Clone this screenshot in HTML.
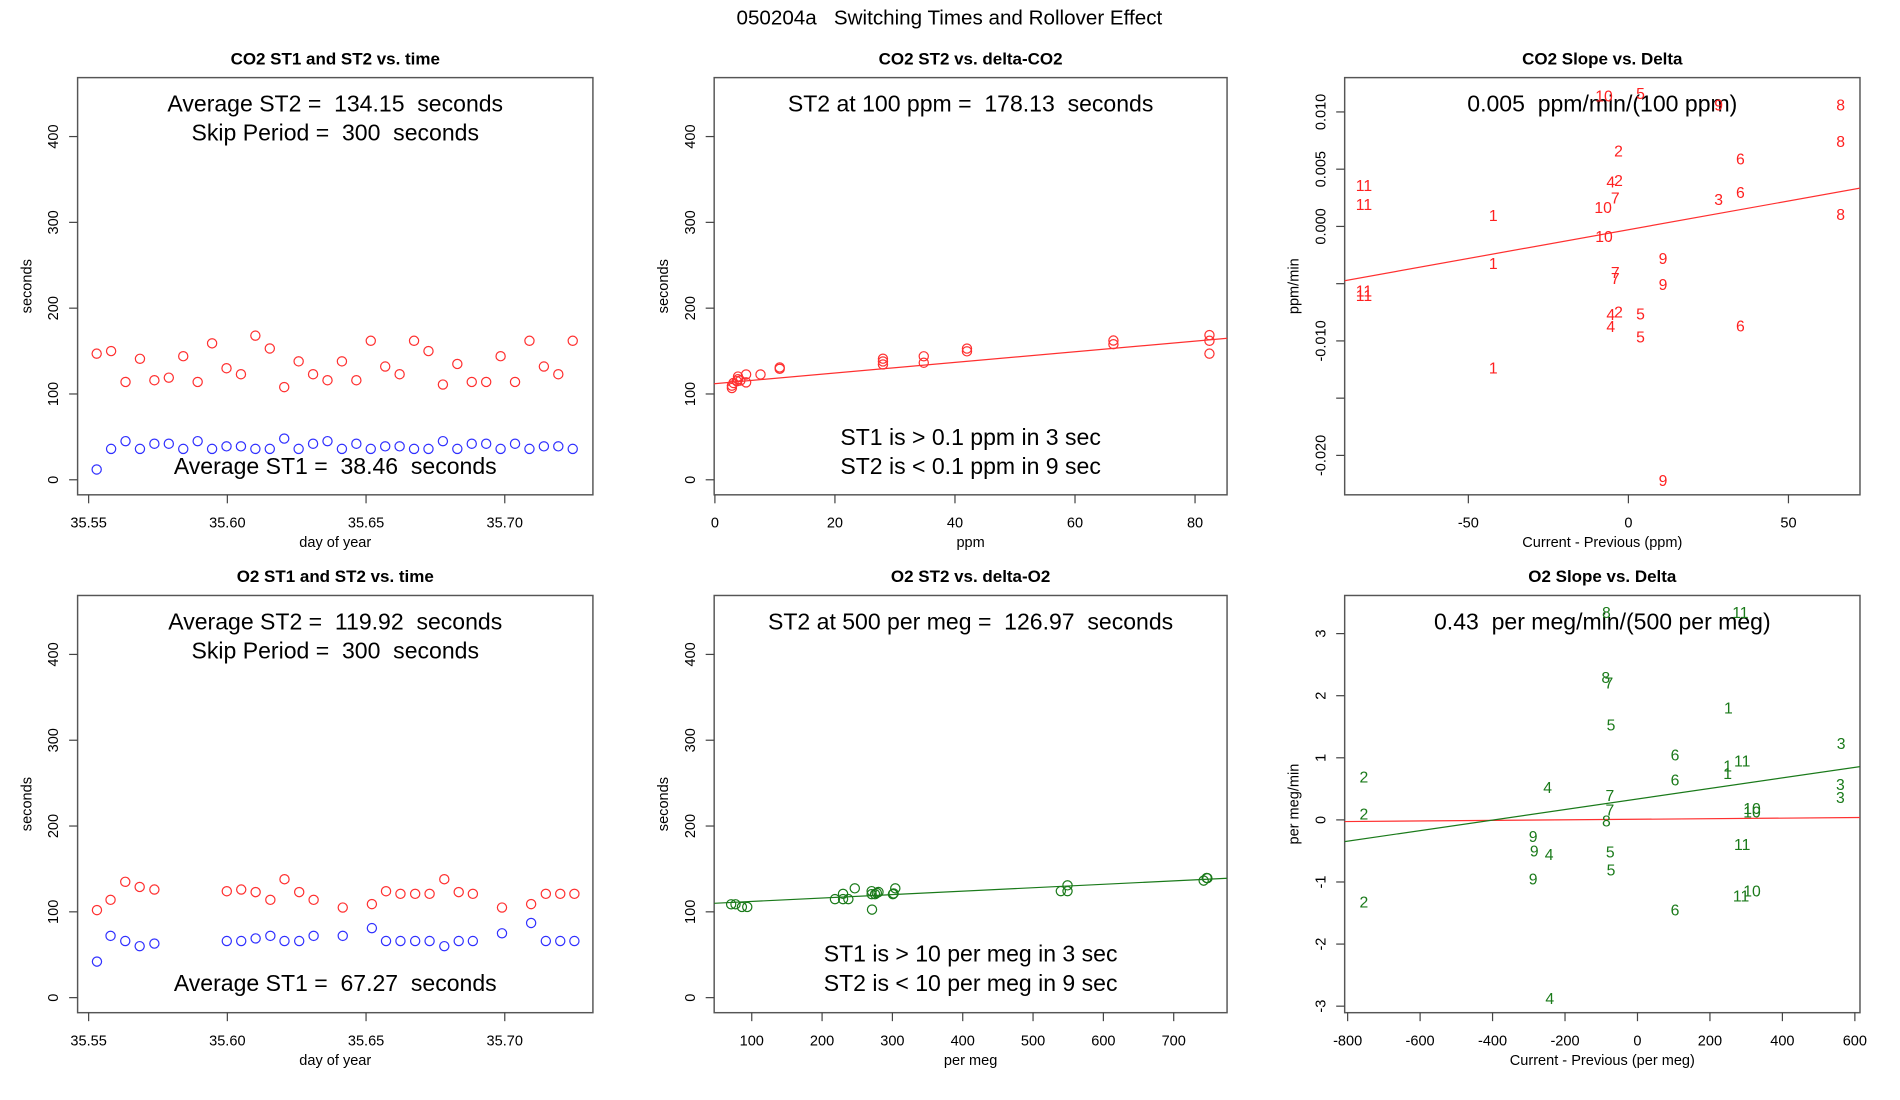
<!DOCTYPE html>
<html><head><meta charset="utf-8"><style>
html,body{margin:0;padding:0;background:#fff;}
svg{display:block;font-family:"Liberation Sans",sans-serif;}
svg text{white-space:pre;}
</style></head><body>
<svg id="fig" width="1900" height="1100" viewBox="0 0 1567 907" preserveAspectRatio="none" xmlns="http://www.w3.org/2000/svg">
<text x="783" y="20" font-size="17" text-anchor="middle">050204a   Switching Times and Rollover Effect</text>
</svg>
<script>
// ---- Panel 1: CO2 ST1 and ST2 vs time ----
const co2Time=[35.5529,35.5581,35.5633,35.5685,35.5737,35.5789,35.5841,35.5893,35.5945,35.5997,35.6049,35.6101,35.6153,35.6205,35.6257,35.6309,35.6361,35.6413,35.6465,35.6517,35.6569,35.6621,35.6673,35.6725,35.6777,35.6829,35.6881,35.6933,35.6985,35.7037,35.7089,35.7141,35.7193,35.7245];
const co2ST2=[147,150,114,141,116,119,144,114,159,130,123,168,153,108,138,123,116,138,116,162,132,123,162,150,111,135,114,114,144,114,162,132,123,162];
const co2ST1=[12,36,45,36,42,42,36,45,36,39,39,36,36,48,36,42,45,36,42,36,39,39,36,36,45,36,42,42,36,42,36,39,39,36];
// ---- Panel 4: O2 ST1 and ST2 vs time ----
const o2Time=[35.5530,35.5579,35.5632,35.5684,35.5737,35.5998,35.6050,35.6102,35.6155,35.6206,35.6259,35.6311,35.6416,35.6521,35.6572,35.6624,35.6677,35.6729,35.6782,35.6834,35.6885,35.6990,35.7095,35.7148,35.7200,35.7251];
const o2ST2=[102,114,135,129,126,124,126,123,114,138,123,114,105,109,124,121,121,121,138,123,121,105,109,121,121,121];
const o2ST1=[42,72,66,60,63,66,66,69,72,66,66,72,72,81,66,66,66,66,60,66,66,75,87,66,66,66];
// ---- Panel 2: CO2 ST2 vs delta ----
const co2Delta=[2.83,2.83,3.1,3.67,3.85,3.85,4.24,5.2,5.2,7.6,10.8,10.8,28.0,28.0,28.0,34.8,34.8,42.0,42.0,66.4,66.4,82.4,82.4,82.4];
const co2DeltaST2=[106.9,109.7,112.8,114.8,117.2,120.3,115.6,122.7,113.5,122.7,130.9,129.3,141.1,137.9,134.4,143.9,136.4,152.9,149.7,162.3,158,168.6,162,147];
const co2Fit=[0.62,112];
// ---- Panel 5: O2 ST2 vs delta ----
const o2Delta=[70.7,76.9,86.0,93.6,218.3,229.8,229.8,237.4,246.5,270.5,270.5,271.0,275.3,277.8,280.2,300.7,301.7,304.1,539.5,549.0,549.0,742.6,746.9,747.9];
const o2DeltaST2=[108.8,108.8,105.7,105.7,114.8,121.0,114.8,114.8,127.4,124.1,120.6,102.6,120.6,122.0,123.1,120.6,121.4,127.4,124.1,130.9,124.1,136.4,139.5,139.2];
const o2Fit=[0.04,108.1];
// ---- Panel 3: CO2 slope vs delta ----
const co2SlopeLabels=["10","5","9","8","8","2","6","11","4","2","6","7","3","11","10","1","8","10","1","9","7","7","9","11","11","4","2","5","4","6","5","1","9"];
const co2SlopeX=[-7.6,3.8,28.2,66.3,66.3,-3.1,35.0,-82.6,-5.5,-3.1,35.0,-4.1,28.2,-82.6,-7.9,-42.2,66.3,-7.6,-42.2,10.8,-4.1,-4.1,10.8,-82.6,-82.6,-5.5,-3.1,3.8,-5.5,35.0,3.8,-42.2,10.8];
const co2SlopeY=[0.01142,0.01166,0.01064,0.01064,0.00746,0.00662,0.00595,0.00362,0.00394,0.00408,0.00303,0.00254,0.00239,0.00198,0.00169,0.00099,0.00111,-0.00082,-0.00321,-0.00277,-0.00399,-0.00452,-0.00501,-0.00560,-0.00598,-0.00764,-0.00743,-0.00758,-0.00869,-0.00866,-0.00962,-0.01233,-0.02216];
const co2SlopeFit=[5.02e-5,-0.000288];
// ---- Panel 6: O2 slope vs delta ----
const o2SlopeLabels=["8","11","8","7","1","5","3","6","11","1","1","2","6","4","3","3","7","10","10","7","2","8","9","9","4","11","5","5","9","10","11","2","6","4"];
const o2SlopeX=[-85.7,284,-87.7,-78.8,251,-72.9,562,103.5,289,249,249,-755,103.5,-248,560,560,-76,316,316,-76,-755,-85.7,-288,-285,-244,289,-75,-73,-288,316,286,-755,103.5,-242];
const o2SlopeY=[3.35,3.35,2.30,2.21,1.81,1.54,1.24,1.05,0.96,0.88,0.76,0.70,0.65,0.53,0.58,0.37,0.40,0.19,0.14,0.17,0.10,-0.005,-0.26,-0.49,-0.55,-0.39,-0.51,-0.80,-0.94,-1.14,-1.22,-1.31,-1.44,-2.87];
const o2SlopeFit=[0.000849,0.337];
const o2SlopeRefFit=[4.57e-5,0.0099];
// ticks
const timeTicks=[35.55,35.60,35.65,35.70];
const timeTickLabels=["35.55","35.60","35.65","35.70"];
const secTicks=[0,100,200,300,400];
const ppmTicks=[0,20,40,60,80];
const perMegTicks=[100,200,300,400,500,600,700];
const co2SlopeXTicks=[-50,0,50];
const co2SlopeYTicks=[0.010,0.005,0.000,-0.005,-0.010,-0.015,-0.020];
const co2SlopeYTickLabels=["0.010","0.005","0.000","","-0.010","","-0.020"];
const o2SlopeXTicks=[-800,-600,-400,-200,0,200,400,600];
const o2SlopeYTicks=[-3,-2,-1,0,1,2,3];

const NS="http://www.w3.org/2000/svg";
const fig=document.getElementById('fig');
function mk(tag,attrs,parent,txt){const e=document.createElementNS(NS,tag);for(const k in attrs)e.setAttribute(k,attrs[k]);if(txt!==undefined)e.textContent=txt;(parent||fig).appendChild(e);return e;}

function panel(name,box,sx,sy,o){
  const g=mk('g',{});
  
  
  const b=mk('rect',{x:box[0],y:box[1],width:box[2]-box[0],height:box[3]-box[1],fill:'none',stroke:'#555','stroke-width':1.2},g);
  
  
  const t=mk('text',{x:(box[0]+box[2])/2,y:box[1]-11,'font-size':14,'font-weight':'bold','text-anchor':'middle'},g,o.title);
  
  
  o.xt.forEach((v,i)=>{const x=sx(v);
    mk('line',{x1:x,x2:x,y1:box[3],y2:box[3]+7,stroke:'#444'},g);
    const l=mk('text',{x:x,y:box[3]+27,'font-size':12,'text-anchor':'middle'},g,o.xl?o.xl[i]:String(v));
    
    
  });
  o.yt.forEach((v,i)=>{const y=sy(v);
    mk('line',{x1:box[0],x2:box[0]-7,y1:y,y2:y,stroke:'#444'},g);
    const s=o.yl?o.yl[i]:String(v);
    if(s){const l=mk('text',{x:box[0]-16,y:y,'font-size':12,'text-anchor':'middle',transform:`rotate(-90 ${box[0]-16} ${y})`},g,s);
    
    }
  });
  const xa=mk('text',{x:(box[0]+box[2])/2,y:box[3]+43,'font-size':12,'text-anchor':'middle'},g,o.xlab);
  
  
  const yx=box[0]-38,yy=(box[1]+box[3])/2;
  const ya=mk('text',{x:yx,y:yy,'font-size':12,'text-anchor':'middle',transform:`rotate(-90 ${yx} ${yy})`},g,o.ylab);
  
  
  (o.notes||[]).forEach(n=>{const e=mk('text',{x:(box[0]+box[2])/2,y:n[1],'font-size':19,'text-anchor':'middle'},g,n[0]);
    
    });
  return g;
}
function circles(g,xs,ys,sx,sy,col,name){xs.forEach((v,i)=>{const c=mk('circle',{cx:sx(v),cy:sy(ys[i]),r:3.8,fill:'none',stroke:col,'stroke-width':1},g);
  
  });}
function labels(g,xs,ys,ls,sx,sy,col){xs.forEach((v,i)=>{const t=mk('text',{x:sx(v),y:sy(ys[i])+5,'font-size':13,fill:col,'text-anchor':'middle'},g,ls[i]);
  
  });}
function fitLine(g,box,f,sx,sy,col,x0,x1){
  const clip='c'+Math.round(box[0])+'_'+Math.round(box[1]);
  const cp=mk('clipPath',{id:clip},g);mk('rect',{x:box[0],y:box[1],width:box[2]-box[0],height:box[3]-box[1]},cp);
  const l=mk('line',{x1:sx(x0),y1:sy(f[0]*x0+f[1]),x2:sx(x1),y2:sy(f[0]*x1+f[1]),stroke:col,'stroke-width':1,'clip-path':`url(#${clip})`},g);
  
  }

// scales
const tX=v=>73.1+(v-35.55)*2288;
const secY1=v=>395.6-v*0.7075, secY2=v=>822.6-v*0.7075;
const B1=[64,64,489,408],B4=[64,491,489,835],B2=[589,64,1012,408],B5=[589,491,1012,835],B3=[1109,64,1534,408],B6=[1109,491,1534,835];

let g=panel('co2-time-panel',B1,tX,secY1,{title:'CO2 ST1 and ST2 vs. time',xt:timeTicks,xl:timeTickLabels,yt:secTicks,xlab:'day of year',ylab:'seconds',
  notes:[['Average ST2 =  134.15  seconds',92],['Skip Period =  300  seconds',116],['Average ST1 =  38.46  seconds',391]]});
circles(g,co2Time,co2ST2,tX,secY1,'#ff3030','st2-point');
circles(g,co2Time,co2ST1,tX,secY1,'#3030ff','st1-point');

g=panel('o2-time-panel',B4,tX,secY2,{title:'O2 ST1 and ST2 vs. time',xt:timeTicks,xl:timeTickLabels,yt:secTicks,xlab:'day of year',ylab:'seconds',
  notes:[['Average ST2 =  119.92  seconds',519],['Skip Period =  300  seconds',543],['Average ST1 =  67.27  seconds',817]]});
circles(g,o2Time,o2ST2,tX,secY2,'#ff3030','st2-point');
circles(g,o2Time,o2ST1,tX,secY2,'#3030ff','st1-point');

const pX=v=>589.6+v*4.95;
g=panel('co2-st2-delta-panel',B2,pX,secY1,{title:'CO2 ST2 vs. delta-CO2',xt:ppmTicks,yt:secTicks,xlab:'ppm',ylab:'seconds',
  notes:[['ST2 at 100 ppm =  178.13  seconds',92],['ST1 is > 0.1 ppm in 3 sec',367],['ST2 is < 0.1 ppm in 9 sec',391]]});
fitLine(g,B2,co2Fit,pX,secY1,'#ff3030',-5,90);
circles(g,co2Delta,co2DeltaST2,pX,secY1,'#ff3030','st2-point');

const mX=v=>620+(v-100)*0.58;
g=panel('o2-st2-delta-panel',B5,mX,secY2,{title:'O2 ST2 vs. delta-O2',xt:perMegTicks,yt:secTicks,xlab:'per meg',ylab:'seconds',
  notes:[['ST2 at 500 per meg =  126.97  seconds',519],['ST1 is > 10 per meg in 3 sec',793],['ST2 is < 10 per meg in 9 sec',817]]});
fitLine(g,B5,o2Fit,mX,secY2,'#1a7a1a',0,800);
circles(g,o2Delta,o2DeltaST2,mX,secY2,'#1a7a1a','st2-point');

const cX=v=>1343+v*2.64, cY=v=>186.7-v*9440;
g=panel('co2-slope-panel',B3,cX,cY,{title:'CO2 Slope vs. Delta',xt:co2SlopeXTicks,yt:co2SlopeYTicks,yl:co2SlopeYTickLabels,xlab:'Current - Previous (ppm)',ylab:'ppm/min',
  notes:[['0.005  ppm/min/(100 ppm)',92]]});
fitLine(g,B3,co2SlopeFit,cX,cY,'#ff3030',-100,80);
labels(g,co2SlopeX,co2SlopeY,co2SlopeLabels,cX,cY,'#ff2020');

const oX=v=>1109+(v+808.2)*0.2988, oY=v=>491+(3.614-v)*51.2;
g=panel('o2-slope-panel',B6,oX,oY,{title:'O2 Slope vs. Delta',xt:o2SlopeXTicks,yt:o2SlopeYTicks,xlab:'Current - Previous (per meg)',ylab:'per meg/min',
  notes:[['0.43  per meg/min/(500 per meg)',519]]});
fitLine(g,B6,o2SlopeRefFit,oX,oY,'#ff3030',-900,700);
fitLine(g,B6,o2SlopeFit,oX,oY,'#1a7a1a',-900,700);
labels(g,o2SlopeX,o2SlopeY,o2SlopeLabels,oX,oY,'#1a7a1a');
</script>
</body></html>
